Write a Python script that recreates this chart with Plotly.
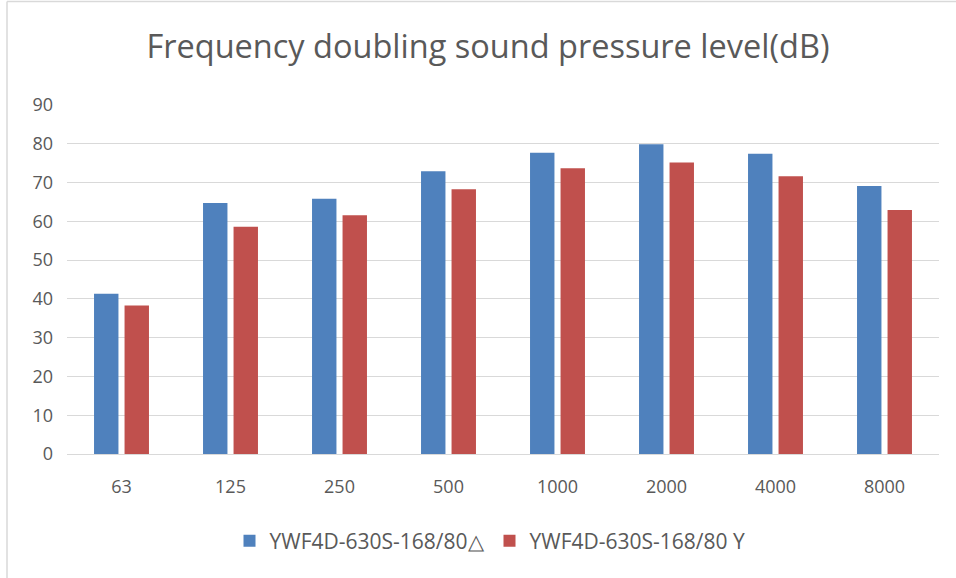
import plotly.graph_objects as go

categories = ["63", "125", "250", "500", "1000", "2000", "4000", "8000"]
series_delta = [41.3, 64.7, 65.8, 72.9, 77.7, 79.9, 77.4, 69.1]
series_y = [38.3, 58.6, 61.6, 68.3, 73.7, 75.2, 71.6, 62.9]
name_delta = "YWF4D-630S-168/80△"
name_y = "YWF4D-630S-168/80 Y"
title_text = "Frequency doubling sound pressure level(dB)"

W, H = 956, 578
L, R, T, B = 67, 17, 105, 124
PW, PH = W - L - R, H - T - B
TXT = "#595959"
FONT = "Open Sans, sans-serif"

def px_x(x):
    return (x - L) / PW

def px_y(y):
    return (H - B - y) / PH

fig = go.Figure()
fig.add_trace(go.Bar(x=categories, y=series_delta, name=name_delta,
                     marker=dict(color="#4F81BD", line=dict(width=0))))
fig.add_trace(go.Bar(x=categories, y=series_y, name=name_y,
                     marker=dict(color="#C0504D", line=dict(width=0))))

fig.update_layout(
    width=W, height=H,
    margin=dict(l=L, r=R, t=T, b=B, autoexpand=False),
    paper_bgcolor="white", plot_bgcolor="white",
    barmode="group", bargap=0.44, bargroupgap=0.2,
    font=dict(family=FONT, color=TXT, size=18),
    title=dict(text=title_text, x=488 / W, xanchor="center", xref="container",
               y=1 - 47 / H, yanchor="middle", yref="container",
               font=dict(family=FONT, size=32.5, color=TXT)),
    legend=dict(orientation="h", x=px_x(490), xanchor="center",
                y=px_y(541), yanchor="middle", font=dict(size=21, color=TXT),
                itemwidth=30, traceorder="normal", itemclick=False),
    xaxis=dict(showgrid=False, showline=False, ticks="", ticklabelstandoff=20,
               tickfont=dict(size=18, color=TXT)),
    yaxis=dict(range=[0, 90], dtick=10, showgrid=True, gridcolor="#d9d9d9", gridwidth=1,
               zeroline=True, zerolinecolor="#d9d9d9", zerolinewidth=1,
               showline=False, ticks="", ticklabelstandoff=13,
               tickfont=dict(size=18, color=TXT)),
    shapes=[
        dict(type="line", xref="paper", yref="paper", x0=px_x(7), x1=px_x(W), y0=px_y(1.5), y1=px_y(1.5),
             line=dict(color="#d9d9d9", width=1.5)),
        dict(type="line", xref="paper", yref="paper", x0=px_x(7), x1=px_x(7), y0=px_y(1.5), y1=px_y(H),
             line=dict(color="#d9d9d9", width=1.5)),
    ],
)

fig.write_html("out.html", config={"displayModeBar": False},
               post_script="document.body.style.margin='0';document.body.style.padding='0';document.body.style.overflow='hidden';")
